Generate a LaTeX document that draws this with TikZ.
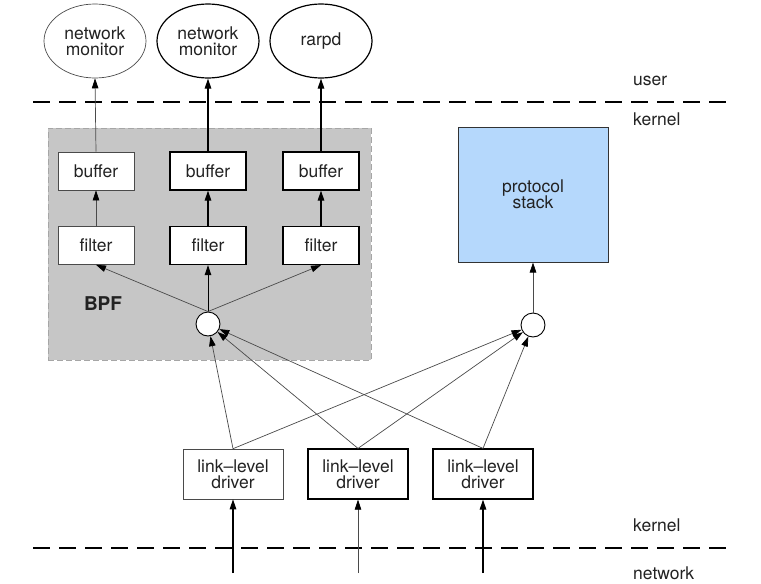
\documentclass[tikz,border=0pt]{standalone}
\usepackage{fontspec}
\setmainfont{TeX Gyre Heros}
\usetikzlibrary{arrows.meta,shapes.geometric}
\definecolor{bpfgray}{HTML}{C6C6C6}
\definecolor{stackblue}{HTML}{B5D8FC}
\definecolor{thin}{HTML}{4A4A4A}
\definecolor{txt}{HTML}{222222}
\begin{document}
\begin{tikzpicture}[x=1pt,y=-1pt,
  font=\fontsize{17.5}{19}\selectfont, text=txt,
  tip/.style={-{Triangle[length=10pt,width=6.5pt,color=black]}},
  thinarrow/.style={tip,draw=thin,line width=0.7pt},
  thickarrow/.style={tip,draw=black,line width=1.2pt},
  proc/.style={ellipse,draw,minimum width=102pt,minimum height=74pt,inner sep=0pt,align=center,fill=white},
  boxthick/.style={rectangle,draw,line width=1.2pt,fill=white,minimum width=76pt,minimum height=38pt,inner sep=0pt},
  boxthin/.style={rectangle,draw=thin,line width=0.7pt,fill=white,minimum width=76pt,minimum height=38pt,inner sep=0pt},
  drvthick/.style={rectangle,draw,line width=1.2pt,fill=white,minimum width=100pt,minimum height=50pt,inner sep=0pt,align=center},
  drvthin/.style={rectangle,draw=thin,line width=0.6pt,fill=white,minimum width=100pt,minimum height=50pt,inner sep=0pt,align=center},
  junction/.style={circle,draw,line width=0.9pt,fill=white,minimum size=24pt,inner sep=0pt},
  sep/.style={line width=1.4pt,dash pattern=on 17pt off 9pt},
  lbl/.style={anchor=west,inner sep=0pt}
]
\useasboundingbox (0,0) rectangle (761,584);
\fill[white] (0,0) rectangle (761,584);

% BPF area
\node[rectangle,fill=bpfgray,draw=gray!70,dash pattern=on 6pt off 3pt,line width=0.8pt,minimum width=323pt,minimum height=232pt,inner sep=0pt] (bpf) at (209.5,244) {};
\node[font=\fontsize{19}{21}\selectfont\bfseries] (bpflbl) at (103,304) {BPF};

% separators
\coordinate (s1a) at (33,102); \coordinate (s1b) at (728,102);
\coordinate (s2a) at (33,548); \coordinate (s2b) at (728,548);
\draw[sep] (s1a) -- (s1b);
\draw[sep] (s2a) -- (s2b);
\node[lbl] (user) at (633,81) {user};
\node[lbl] (kern1) at (633,119) {kernel};
\node[lbl] (kern2) at (633,525) {kernel};
\node[lbl] (net) at (633,573) {network};

% user processes
\node[proc,draw=thin,line width=0.7pt] (p1) at (95,41) {network\\[-3pt]monitor};
\node[proc,line width=1.2pt] (p2) at (208,41) {network\\[-3pt]monitor};
\node[proc,line width=1.2pt] (p3) at (321,41) {rarpd};

% buffers and filters
\node[boxthin] (b1) at (96,171) {buffer};
\node[boxthick] (b2) at (208,171) {buffer};
\node[boxthick] (b3) at (321,171) {buffer};
\node[boxthin] (f1) at (96,245.5) {filter};
\node[boxthick] (f2) at (208,245.5) {filter};
\node[boxthick] (f3) at (321,245.5) {filter};

% junctions
\node[junction] (c1) at (208,324) {};
\node[junction] (c2) at (533,325) {};

% protocol stack
\node[rectangle,draw=black!80,line width=1pt,fill=stackblue,minimum width=150pt,minimum height=135pt,inner sep=0pt,align=center] (ps) at (533,194.5) {protocol\\[-3pt]stack};

% drivers
\node[drvthin] (d1) at (233,474) {link–level\\[-3pt]driver};
\node[drvthick] (d2) at (358,474) {link–level\\[-3pt]driver};
\node[drvthick] (d3) at (483,474) {link–level\\[-3pt]driver};

% network inputs
\coordinate (n1) at (233,573);
\coordinate (n2) at (358,573);
\coordinate (n3) at (483,573);
\draw[thickarrow] (n1) -- (d1.south);
\draw[thinarrow] (n2) -- (d2.south);
\draw[thickarrow] (n3) -- (d3.south);

% drivers to junctions
\draw[thinarrow] (d1.north) -- (c1);
\draw[thinarrow] (d2.north) -- (c1);
\draw[thinarrow] (d3.north) -- (c1);
\draw[thinarrow] (d1.north) -- (c2);
\draw[thinarrow] (d2.north) -- (c2);
\draw[thinarrow] (d3.north) -- (c2);

% junctions up
\draw[thinarrow] (c1.north) -- (f1.south);
\draw[thickarrow,line width=0.9pt] (c1.north) -- (f2.south);
\draw[thinarrow] (c1.north) -- (f3.south);
\draw[thinarrow] (c2.north) -- (ps.south);

% filter to buffer
\draw[thinarrow] (f1.north) -- (b1.south);
\draw[thickarrow] (f2.north) -- (b2.south);
\draw[thickarrow] (f3.north) -- (b3.south);

% buffer to process
\draw[thinarrow] (b1.north) -- (p1.south);
\draw[thickarrow] (b2.north) -- (p2.south);
\draw[thickarrow] (b3.north) -- (p3.south);
\end{tikzpicture}
\end{document}
